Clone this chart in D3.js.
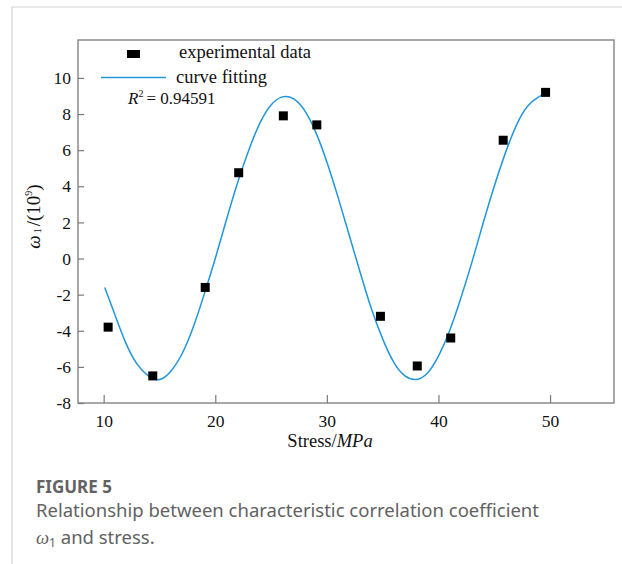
<!DOCTYPE html>
<html>
<head>
<meta charset="utf-8">
<script src="https://cdn.jsdelivr.net/npm/d3@7"></script>
<style>
  body { margin: 0; background: #fff; }
</style>
</head>
<body>
<div id="chart"></div>
<script>
// measured points (stress in MPa, omega1 in 1e9)
const stress = [10.4, 14.4, 19.1, 22.1, 26.1, 29.1, 34.8, 38.1, 41.1, 45.8, 49.6];
const omega = [-3.8, -6.5, -1.6, 4.75, 7.9, 7.4, -3.2, -5.95, -4.4, 6.55, 9.2];

// fitted curve
const fitX = [10.1, 11, 12, 13, 14, 15, 16, 17, 18, 19, 20, 21, 22, 23, 24, 25, 26, 27, 28, 29,
              30, 31, 32, 33, 34, 35, 36, 37, 38, 39, 40, 41, 42, 43, 44, 45, 46, 47, 48, 49, 49.6];
const fitY = [-1.6, -3.1, -4.7, -5.85, -6.5, -6.7, -6.25, -5.3, -3.85, -2.0, 0.0, 2.15, 4.2, 6.0, 7.5, 8.5, 8.95, 8.85, 8.2, 7.0,
              5.35, 3.4, 1.3, -0.8, -2.8, -4.45, -5.75, -6.5, -6.7, -6.35, -5.4, -4.0, -2.2, -0.2, 1.95, 4.0, 5.85, 7.4, 8.45, 8.95, 9.15];

const xTicks = [10, 20, 30, 40, 50];
const yTicks = [-8, -6, -4, -2, 0, 2, 4, 6, 8, 10];

const width = 622, height = 564;
const plot = {left: 78, right: 614, top: 40, bottom: 403};
const serif = "'Liberation Serif', 'Times New Roman', serif";
const sans = "'Noto Sans', 'Open Sans', sans-serif";

const svg = d3.select("#chart").append("svg")
    .attr("width", width)
    .attr("height", height);

// page frame lines
svg.append("line").attr("x1", 12).attr("y1", 7).attr("x2", width).attr("y2", 7)
    .attr("stroke", "#d2d2d2").attr("stroke-width", 1.2);
svg.append("line").attr("x1", 12).attr("y1", 7).attr("x2", 12).attr("y2", height)
    .attr("stroke", "#d2d2d2").attr("stroke-width", 1.2);

let x = d3.scaleLinear().domain([7.7, 55.73]).range([plot.left, plot.right]);
let y = d3.scaleLinear().domain([-8, 12.1]).range([plot.bottom, plot.top]);

// axes with inward ticks
const xAxis = svg.append("g")
    .attr("transform", `translate(0,${plot.bottom})`)
    .call(d3.axisBottom(x).tickValues(xTicks).tickSize(-8).tickSizeOuter(0).tickPadding(12).tickFormat(d => String(d)));
const yAxis = svg.append("g")
    .attr("transform", `translate(${plot.left},0)`)
    .call(d3.axisLeft(y).tickValues(yTicks).tickSize(-6).tickSizeOuter(0).tickPadding(7).tickFormat(d => String(d)));

[xAxis, yAxis].forEach(g => {
    g.attr("font-family", serif);
    g.select(".domain").remove();
    g.selectAll(".tick line").attr("stroke", "#7a7a7a").attr("stroke-width", 1.2);
    g.selectAll(".tick text")
        .attr("fill", "#111")
        .style("font-family", serif)
        .style("font-size", "17.5px");
});

// plot frame
svg.append("rect")
    .attr("x", plot.left).attr("y", plot.top)
    .attr("width", plot.right - plot.left).attr("height", plot.bottom - plot.top)
    .attr("fill", "none").attr("stroke", "#7a7a7a").attr("stroke-width", 1.3);

// fitted curve
let line = d3.line()
    .x(d => x(d[0]))
    .y(d => y(d[1]))
    .curve(d3.curveNatural);

svg.append("path")
    .datum(fitX.map((v, i) => [v, fitY[i]]))
    .attr("d", line)
    .attr("fill", "none")
    .attr("stroke", "#2196dc")
    .attr("stroke-width", 1.5);

// data markers
const ms = 9;
svg.selectAll(".pt")
    .data(stress.map((v, i) => [v, omega[i]]))
    .join("rect")
    .attr("class", "pt")
    .attr("x", d => x(d[0]) - ms / 2)
    .attr("y", d => y(d[1]) - ms / 2)
    .attr("width", ms)
    .attr("height", ms)
    .attr("fill", "#000");

// legend
svg.append("rect").attr("x", 127).attr("y", 50).attr("width", 13).attr("height", 8).attr("fill", "#000");
svg.append("text").attr("x", 179).attr("y", 58).style("font-family", serif).style("font-size", "18.5px")
    .attr("fill", "#111").text("experimental data");
svg.append("line").attr("x1", 101).attr("x2", 166).attr("y1", 77.5).attr("y2", 77.5)
    .attr("stroke", "#2196dc").attr("stroke-width", 1.3);
svg.append("text").attr("x", 176).attr("y", 83).style("font-family", serif).style("font-size", "18.5px")
    .attr("fill", "#111").text("curve fitting");

const r2 = svg.append("text").attr("x", 128).attr("y", 104)
    .style("font-family", serif).style("font-size", "17px").attr("fill", "#111");
r2.append("tspan").attr("font-style", "italic").text("R");
r2.append("tspan").style("font-size", "10px").attr("dy", -7).text("2");
r2.append("tspan").attr("dy", 7).attr("dx", 3).text("= 0.94591");

// y axis title
const yl = svg.append("text")
    .attr("transform", `translate(40,${(plot.top + plot.bottom) / 2 - 5}) rotate(-90)`)
    .attr("text-anchor", "middle")
    .style("font-family", serif)
    .style("font-size", "19px")
    .attr("fill", "#111");
yl.append("tspan").attr("font-style", "italic").text("ω");
yl.append("tspan").style("font-size", "10px").attr("dy", 1).attr("dx", 2).text("1");
yl.append("tspan").attr("dy", -1).attr("dx", 2).text("/(10");
yl.append("tspan").style("font-size", "10px").attr("dy", -8).text("9");
yl.append("tspan").attr("dy", 8).text(")");

// x axis title
const xl = svg.append("text")
    .attr("x", 330).attr("y", 447)
    .attr("text-anchor", "middle")
    .style("font-family", serif)
    .style("font-size", "18.5px")
    .attr("fill", "#111");
xl.append("tspan").text("Stress/");
xl.append("tspan").attr("font-style", "italic").text("MPa");

// caption
const cap = svg.append("g").attr("fill", "#626262");
cap.append("text").attr("x", 36).attr("y", 493).attr("font-weight", "bold")
    .style("font-family", sans).style("font-size", "17px").text("FIGURE 5");
cap.append("text").attr("x", 36).attr("y", 517)
    .style("font-family", sans).style("font-size", "18.5px")
    .text("Relationship between characteristic correlation coefficient");
const c3 = cap.append("text").attr("x", 36).attr("y", 544)
    .style("font-family", sans).style("font-size", "18.5px");
c3.append("tspan").attr("font-style", "italic").style("font-family", serif).text("ω");
c3.append("tspan").style("font-size", "12px").attr("dy", 3).text("1");
c3.append("tspan").attr("dy", -3).text(" and stress.");
</script>
</body>
</html>
